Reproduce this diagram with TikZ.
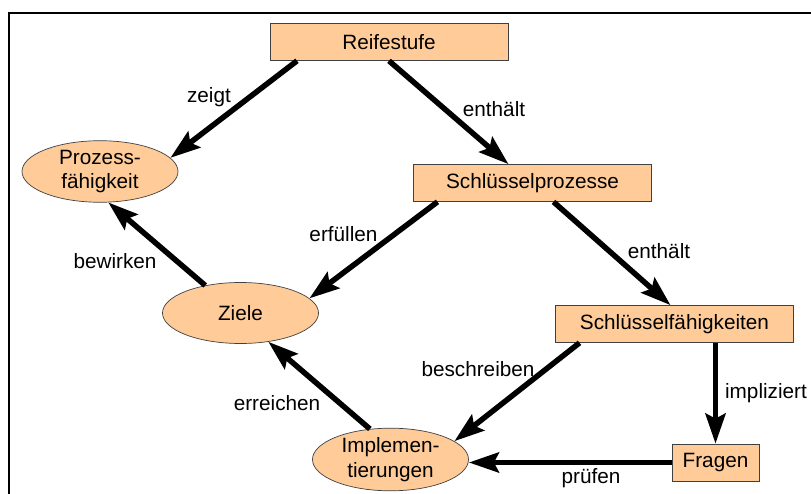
\documentclass[tikz,border=0pt]{standalone}
\usepackage{fontspec}
\setmainfont{Liberation Sans}
\usetikzlibrary{arrows.meta,shapes.geometric}
\definecolor{peach}{HTML}{FFCC99}

\begin{document}
\begin{tikzpicture}[>={Stealth[length=0.6cm,width=0.4cm,inset=0.1cm]},
	font=\fontsize{11.8}{14.2}\selectfont,
	box/.style={draw=black!75,fill=peach,minimum width=4.76cm,minimum height=0.74cm,inner sep=0pt},
	oval/.style={ellipse,draw=black!75,fill=peach,minimum width=3.12cm,minimum height=1.22cm,inner sep=0pt,align=center},
	rel/.style={->,line width=0.11cm}]
		\useasboundingbox (0,0) rectangle (16.22,-9.88);
		\draw[line width=0.04cm] (0.18,-9.88) -- (0.18,-0.26) -- (16.22,-0.26);
		% Rechtecke
		\node[box] (reife) at (7.78,-0.84) {Reifestufe};
		\node[box] (prozesse) at (10.65,-3.66) {Schlüsselprozesse};
		\node[box] (faehig) at (13.49,-6.48) {Schlüsselfähigkeiten};
		\node[box,minimum width=1.74cm] (fragen) at (14.31,-9.25) {Fragen};
		% Ellipsen
		\node[oval] (prozfaeh) at (2.0,-3.43) {Prozess-\\fähigkeit};
		\node[oval] (ziele) at (4.81,-6.26) {Ziele};
		\node[oval] (impl) at (7.81,-9.19) {Implemen-\\tierungen};
		% Pfeile
		\draw[rel] ([xshift=-1.84cm]reife.south) -- (prozfaeh.11);
		\draw[rel] (reife.south) -- ([xshift=-0.48cm]prozesse.north);
		\draw[rel] ([xshift=-1.9cm]prozesse.south) -- (ziele.12);
		\draw[rel] (ziele.142) -- (prozfaeh.-75);
		\draw[rel] ([xshift=0.42cm]prozesse.south) -- ([xshift=-0.08cm]faehig.north);
		\draw[rel] ([xshift=-1.9cm]faehig.south) -- (impl.16);
		\draw[rel] (impl.124) -- (ziele.-46);
		\draw[rel] (fragen.north |- faehig.south) -- (fragen.north);
		\draw[rel] (fragen.west) -- (fragen.west -| impl.east);
		% Beschriftungen
		\node (lzeigt) at (4.18,-1.94) {zeigt};
		\node (lenthaelt) at (9.88,-2.18) {enthält};
		\node (lerfuellen) at (6.87,-4.68) {erfüllen};
		\node (lbewirken) at (2.3,-5.22) {bewirken};
		\node (lenthaelt2) at (13.18,-5.02) {enthält};
		\node (lbeschreiben) at (9.56,-7.38) {beschreiben};
		\node (lerreichen) at (5.54,-8.06) {erreichen};
		\node (limpliziert) at (15.32,-7.86) {impliziert};
		\node (lpruefen) at (11.82,-9.56) {prüfen};
	\end{tikzpicture}
\end{document}
